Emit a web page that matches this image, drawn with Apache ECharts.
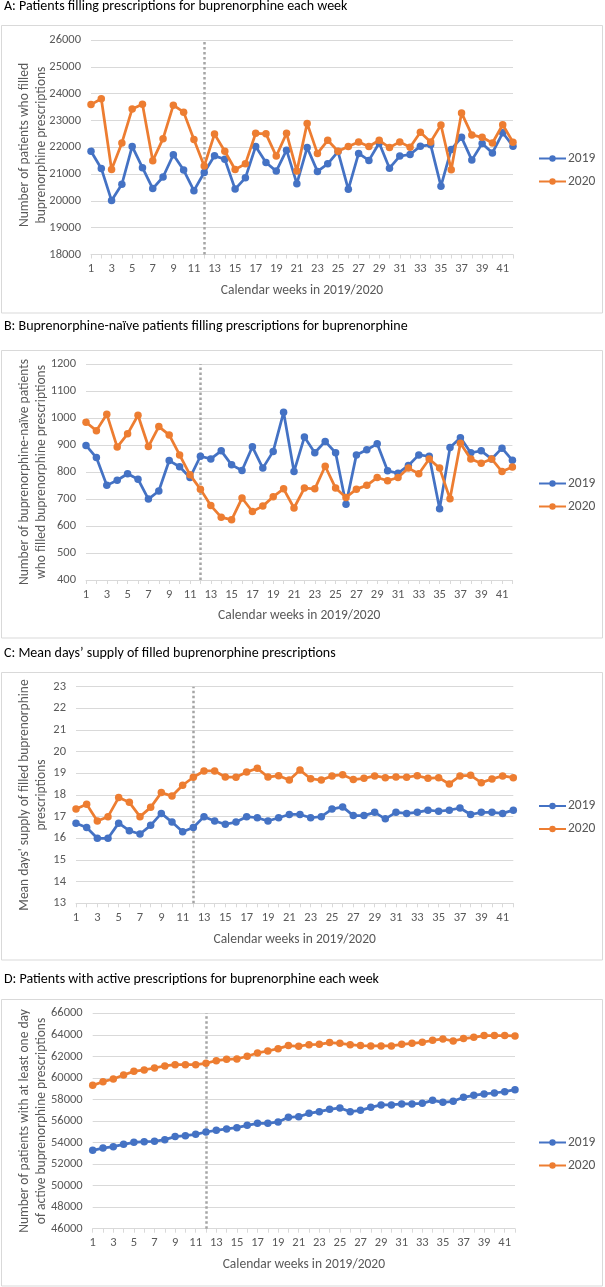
<!DOCTYPE html>
<html>
<head>
<meta charset="utf-8">
<script src="https://cdn.jsdelivr.net/npm/echarts@6/dist/echarts.min.js"></script>
<style>
html,body{margin:0;padding:0;background:#fff;}
#c{width:605px;height:1287px;}
</style>
</head>
<body>
<div id="c"></div>
<script>
const weeks = ['1','2','3','4','5','6','7','8','9','10','11','12','13','14','15','16','17','18','19','20','21','22','23','24','25','26','27','28','29','30','31','32','33','34','35','36','37','38','39','40','41','42'];
const seriesNames = ['2019', '2020'];

const titles = [
  'A: Patients filling prescriptions for buprenorphine each week',
  'B: Buprenorphine-naïve patients filling prescriptions for buprenorphine',
  'C: Mean days\u2019 supply of filled buprenorphine prescriptions',
  'D: Patients with active prescriptions for buprenorphine each week'
];
const yNames = [
  'Number of patients who filled\nbuprenorphine prescriptions',
  'Number of buprenorphine-naïve patients\nwho filled buprenorphine prescriptions',
  "Mean days' supply of filled buprenorphine\nprescriptions",
  'Number of patients with at least one day\nof active buprenorphine prescriptions'
];
const xName = 'Calendar weeks in 2019/2020';

// y-axis ranges [min, max, interval]
const yRanges = [[18000, 26000, 1000], [400, 1200, 100], [13, 23, 1], [46000, 66000, 2000]];
const markWeek = '12';

const a2019 = [21850,21210,20010,20620,22030,21240,20460,20890,21720,21150,20380,21060,21680,21550,20440,20860,22030,21430,21110,21890,20640,21990,21100,21380,21840,20430,21770,21510,22160,21220,21670,21730,22040,22090,20550,21920,22370,21520,22140,21790,22540,22040];
const a2020 = [23590,23810,21170,22160,23430,23600,21500,22320,23570,23310,22290,21300,22490,21850,21170,21380,22520,22500,21670,22520,21110,22890,21770,22260,21850,22030,22200,22030,22260,21990,22200,22000,22560,22200,22830,21160,23280,22460,22370,22160,22840,22190];

const b2019 = [899,854,751,770,794,774,700,730,843,820,780,859,849,879,827,806,894,815,877,1022,802,930,872,914,872,681,864,883,905,805,796,825,864,859,664,891,928,872,879,849,889,844];
const b2020 = [985,954,1015,893,942,1011,895,969,938,864,790,737,676,633,623,704,654,674,709,738,667,741,738,822,741,706,737,751,780,768,780,815,794,849,815,701,907,849,833,849,802,819];

const c2019 = [16.7,16.5,16.0,16.0,16.7,16.35,16.2,16.6,17.15,16.75,16.3,16.5,17.0,16.8,16.65,16.75,17.0,16.95,16.8,16.95,17.1,17.1,16.95,17.0,17.35,17.45,17.05,17.05,17.2,16.9,17.2,17.15,17.2,17.3,17.25,17.3,17.4,17.1,17.2,17.2,17.15,17.3];
const c2020 = [17.35,17.57,16.8,17.0,17.88,17.66,17.0,17.43,18.11,17.95,18.45,18.82,19.11,19.11,18.83,18.82,19.06,19.23,18.83,18.89,18.69,19.15,18.75,18.69,18.88,18.94,18.71,18.77,18.88,18.8,18.83,18.82,18.89,18.77,18.8,18.51,18.88,18.91,18.57,18.74,18.88,18.8];

const d2019 = [53280,53490,53620,53830,54020,54080,54110,54270,54550,54640,54760,54980,55130,55260,55380,55600,55780,55780,55910,56340,56400,56710,56870,57080,57210,56870,56990,57270,57490,57490,57580,57580,57640,57920,57730,57830,58200,58380,58510,58600,58720,58910];
const d2020 = [59310,59650,59900,60270,60610,60740,60920,61110,61230,61230,61230,61360,61600,61730,61760,62010,62320,62500,62720,63000,62940,63090,63120,63280,63210,63090,63000,62970,62970,62970,63120,63210,63310,63490,63620,63430,63650,63770,63930,63930,63930,63900];

const panelData = [[a2019, a2020], [b2019, b2020], [c2019, c2020], [d2019, d2020]];

// layout (pixels)
const FONT = 'Carlito, Lato, "Open Sans", sans-serif';
const layout = [
  {left: 91,   top: 40,     right: 513,   bottom: 254.5, titleY: 8,     box: [25.5, 313],  legendTop: 151.5, yNameY: 145},
  {left: 86,   top: 364.3,  right: 512.4, bottom: 580,   titleY: 328,   box: [350.5, 638], legendTop: 476.5, yNameY: 472},
  {left: 76,   top: 686.7,  right: 513.3, bottom: 903.3, titleY: 655,   box: [672.5, 960], legendTop: 799,   yNameY: 795},
  {left: 92.7, top: 1013.3, right: 515,   bottom: 1228.7,titleY: 981.5, box: [999.5, 1286], legendTop: 1135.5, yNameY: 1121}
];
const colors = ['#4472C4', '#ED7D31'];

const option = {
  backgroundColor: '#ffffff',
  animation: false,
  grid: [], xAxis: [], yAxis: [], series: [], legend: [], graphic: []
};

layout.forEach((L, i) => {
  option.graphic.push({
    type: 'rect', silent: true, z: -1,
    shape: {x: 1.5, y: L.box[0], width: 601, height: L.box[1] - L.box[0]},
    style: {fill: 'none', stroke: '#D9D9D9', lineWidth: 1}
  });
  option.graphic.push({
    type: 'text', left: 4, top: L.titleY - 9, silent: true,
    style: {text: titles[i], font: '14px ' + FONT, fill: '#000000'}
  });
  option.graphic.push({
    type: 'text', x: 33.5, y: L.yNameY, rotation: Math.PI / 2, silent: true,
    style: {text: yNames[i], font: '13.5px ' + FONT, fill: '#595959',
            align: 'center', verticalAlign: 'middle', lineHeight: 17}
  });
  option.grid.push({left: L.left, top: L.top, width: L.right - L.left, height: L.bottom - L.top, containLabel: false});
  option.xAxis.push({
    type: 'category', gridIndex: i, data: weeks, boundaryGap: false,
    name: xName, nameLocation: 'middle', nameGap: 29,
    nameTextStyle: {color: '#595959', fontSize: 13.5, fontFamily: FONT},
    axisLine: {lineStyle: {color: '#D9D9D9', width: 1}},
    axisTick: {show: true, interval: 0, length: 4, inside: false, lineStyle: {color: '#D9D9D9'}},
    axisLabel: {interval: 1, color: '#595959', fontSize: 12.5, fontFamily: FONT, margin: 8},
    splitLine: {show: false}
  });
  const r = yRanges[i];
  option.yAxis.push({
    type: 'value', gridIndex: i, min: r[0], max: r[1], interval: r[2],
    axisLine: {show: false}, axisTick: {show: false},
    axisLabel: {color: '#595959', fontSize: 12.5, fontFamily: FONT, margin: 10, formatter: v => String(v)},
    splitLine: {lineStyle: {color: '#D9D9D9', width: 1}}
  });
  panelData[i].forEach((vals, k) => {
    const s = {
      type: 'line', name: seriesNames[k], xAxisIndex: i, yAxisIndex: i,
      data: vals, color: colors[k],
      symbol: 'circle', symbolSize: 7.5, showSymbol: true, showAllSymbol: true,
      lineStyle: {width: 2.75, color: colors[k]},
      itemStyle: {color: colors[k]},
      z: 3 + k
    };
    if (k === 0) {
      s.markLine = {
        silent: true, symbol: ['none', 'none'], label: {show: false},
        lineStyle: {color: '#A5A5A5', type: [2.5, 2.5], width: 2.5},
        data: [{xAxis: markWeek}],
        z: 1
      };
    }
    option.series.push(s);
  });
  option.legend.push({
    orient: 'vertical', left: 538, top: L.legendTop, padding: 0,
    itemWidth: 27, itemHeight: 8, itemGap: 9,
    data: seriesNames,
    textStyle: {color: '#595959', fontSize: 13.5, fontFamily: FONT, padding: [0, 0, 0, -3]},
    selectedMode: false
  });
});

const chart = echarts.init(document.getElementById('c'), null, {renderer: 'canvas'});
chart.setOption(option);
</script>
</body>
</html>
